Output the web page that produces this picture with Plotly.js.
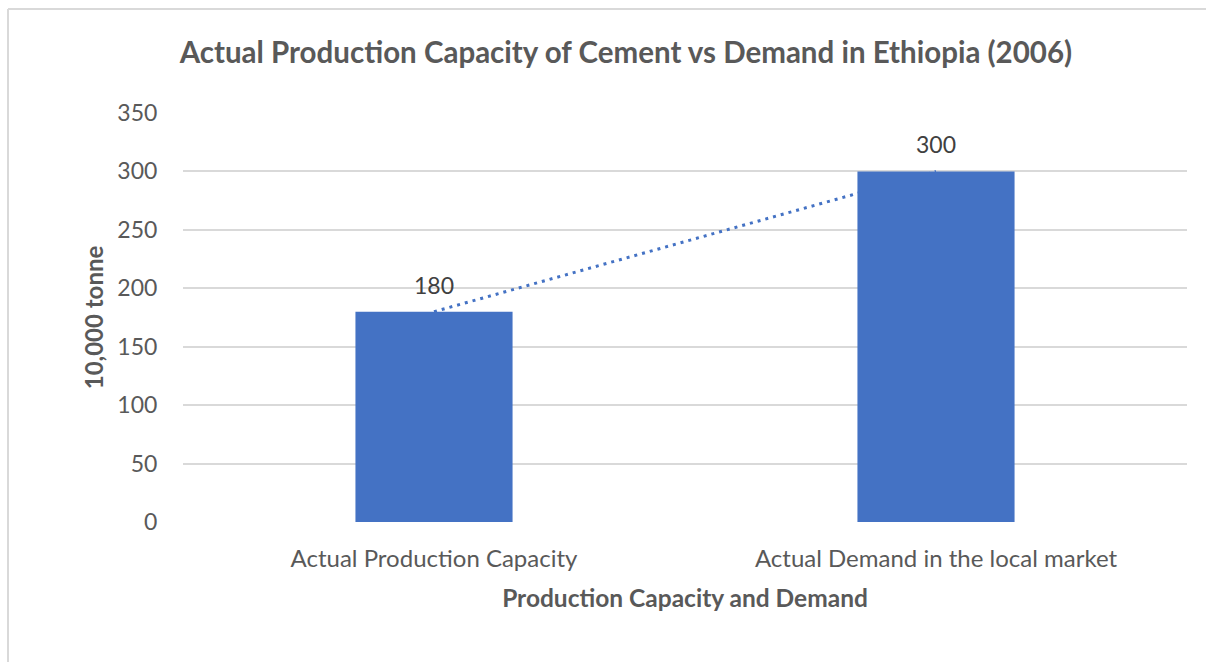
<!DOCTYPE html>
<html>
<head>
<meta charset="utf-8">
<script src="https://cdn.plot.ly/plotly-3.0.1.min.js"></script>
<style>
  html, body { margin: 0; padding: 0; background: #ffffff; }
  #chart { width: 1206px; height: 662px; }
</style>
</head>
<body>
<div id="chart"></div>
<script>
// Cement production capacity vs local demand, Ethiopia 2006 (units of 10,000 tonne)
const categories = ["Actual Production Capacity", "Actual Demand in the local market"];
const values = [180, 300];
const yTicks = [0, 50, 100, 150, 200, 250, 300, 350];

const barColor = "#4472C4";
const textGrey = "#595959";
const fontFamily = "Lato, 'Open Sans', sans-serif";

// Linear trendline through the two bar values (drawn underneath the bars)
const trend = {
  type: "scatter",
  mode: "lines",
  x: categories,
  y: values,
  xaxis: "x",
  yaxis: "y",
  line: { color: barColor, width: 3, dash: "3px,5px" },
  hoverinfo: "skip",
  showlegend: false
};

const bars = {
  type: "bar",
  x: categories,
  y: values,
  xaxis: "x2",
  yaxis: "y2",
  width: 0.313,
  marker: { color: barColor },
  hoverinfo: "skip",
  showlegend: false
};

// value labels above each bar
const valueLabels = categories.map((c, i) => ({
  x: c,
  y: values[i],
  xref: "x2",
  yref: "y2",
  text: String(values[i]),
  showarrow: false,
  yanchor: "middle",
  yshift: 27,
  font: { family: fontFamily, size: 23, color: "#404040" }
}));

const layout = {
  width: 1206,
  height: 662,
  paper_bgcolor: "#ffffff",
  plot_bgcolor: "#ffffff",
  margin: { l: 183, r: 19, t: 113, b: 140 },
  font: { family: fontFamily, color: textGrey },
  title: {
    text: "<b>Actual Production Capacity of Cement vs Demand in Ethiopia (2006)</b>",
    font: { family: fontFamily, size: 29.5, color: textGrey },
    x: 0.519,
    xref: "container",
    xanchor: "center",
    y: 0.921,
    yref: "container",
    yanchor: "middle"
  },
  xaxis: {
    type: "category",
    range: [-0.5, 1.5],
    showgrid: false,
    zeroline: false,
    showline: false,
    ticks: "outside",
    ticklen: 15,
    tickcolor: "rgba(0,0,0,0)",
    tickfont: { family: fontFamily, size: 24, color: textGrey },
    title: {
      text: "<b>Production Capacity and Demand</b>",
      font: { family: fontFamily, size: 24.5, color: textGrey },
      standoff: 19
    }
  },
  yaxis: {
    range: [0, 350],
    tickvals: yTicks,
    showgrid: true,
    gridcolor: "#d9d9d9",
    gridwidth: 2,
    zeroline: false,
    showline: false,
    ticks: "outside",
    ticklen: 20,
    tickcolor: "rgba(0,0,0,0)",
    tickfont: { family: fontFamily, size: 23, color: textGrey },
    title: {
      text: "<b>10,000 tonne</b>",
      font: { family: fontFamily, size: 24, color: textGrey },
      standoff: 6
    }
  },
  xaxis2: {
    type: "category",
    overlaying: "x",
    range: [-0.5, 1.5],
    visible: false
  },
  yaxis2: {
    overlaying: "y",
    range: [0, 350],
    visible: false
  },
  annotations: valueLabels,
  shapes: [
    // chart frame (left and top edges visible inside the page)
    { type: "line", xref: "paper", yref: "paper",
      x0: (8 - 183) / 1004, x1: (8 - 183) / 1004,
      y0: (522 - 9) / 409, y1: (522 - 700) / 409,
      line: { color: "#d9d9d9", width: 2 } },
    { type: "line", xref: "paper", yref: "paper",
      x0: (8 - 183) / 1004, x1: (1250 - 183) / 1004,
      y0: (522 - 9) / 409, y1: (522 - 9) / 409,
      line: { color: "#d9d9d9", width: 2 } }
  ],
  showlegend: false
};

Plotly.newPlot("chart", [trend, bars], layout, { displayModeBar: false, staticPlot: true });
</script>
</body>
</html>
